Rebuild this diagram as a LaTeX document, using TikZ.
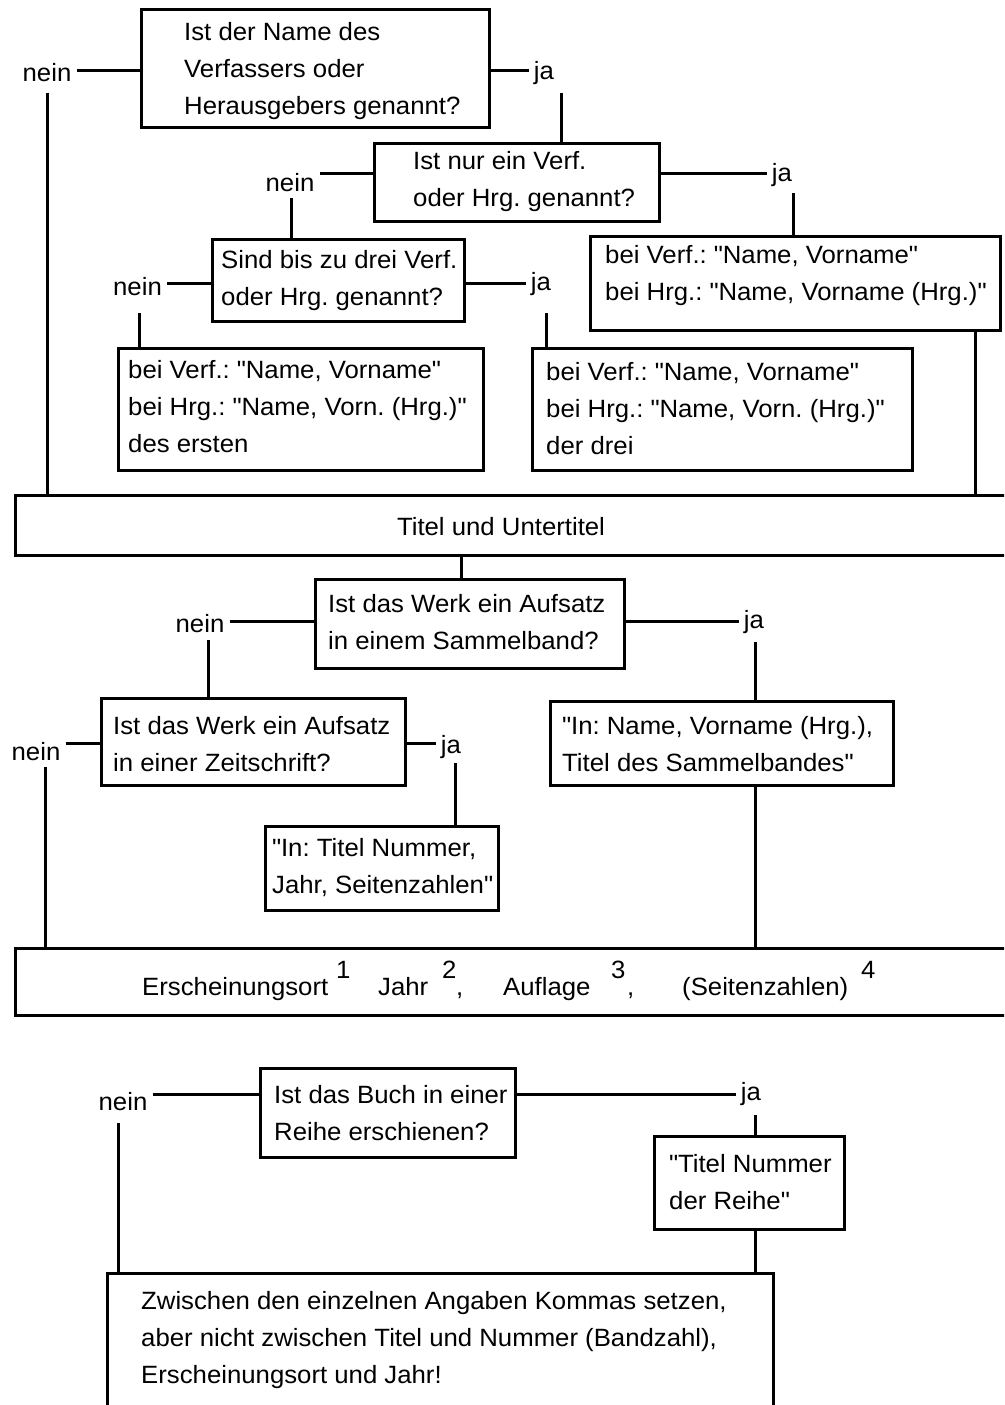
\documentclass[tikz,border=0pt]{standalone}
\usepackage{fontspec}
\setmainfont{Liberation Sans}[FakeStretch=1.03]
\newcommand\dq{\textquotedbl}
\begin{document}
\frenchspacing
\begin{tikzpicture}[x=1pt,y=-1pt,
  every node/.style={font=\fontsize{25pt}{37pt}\selectfont},
  box/.style={draw, line width=3pt, inner sep=0pt},
  txt/.style={anchor=west, align=left, inner sep=0pt},
  lab/.style={anchor=base, inner xsep=5pt, inner ysep=0pt},
  conn/.style={line width=3pt}]
\useasboundingbox (0,0) rectangle (1004,1405);
\clip (0,0) rectangle (1004,1405);
% boxes
\node[box, minimum width=348pt, minimum height=118pt] (b1) at (315,68.7) {};
\node[box, minimum width=285pt, minimum height=78pt] (b2) at (517,182.3) {};
\node[box, minimum width=252pt, minimum height=82pt] (b3) at (338.5,280.5) {};
\node[box, minimum width=410pt, minimum height=94pt] (b4) at (795.5,283.5) {};
\node[box, minimum width=365pt, minimum height=122pt] (b5) at (301,409.5) {};
\node[box, minimum width=380pt, minimum height=122pt] (b6) at (722.5,409.5) {};
\node[box, minimum width=998pt, minimum height=60pt] (titel) at (514.5,525.5) {};
\node[box, minimum width=309pt, minimum height=89pt] (b7) at (470,624) {};
\node[box, minimum width=304pt, minimum height=87pt] (b8) at (253.5,742) {};
\node[box, minimum width=343pt, minimum height=84pt] (b9) at (722,743.5) {};
\node[box, minimum width=233pt, minimum height=84pt] (b10) at (382,868.5) {};
\node[box, minimum width=998pt, minimum height=67pt] (ersch) at (514.5,982) {};
\node[box, minimum width=255pt, minimum height=89pt] (b11) at (388,1113) {};
\node[box, minimum width=190pt, minimum height=93pt] (b12) at (749.5,1183) {};
\node[box, minimum width=666pt, minimum height=157pt] (b13) at (440.5,1351.5) {};
% texts
\node[txt] (t1) at (184,71) {Ist der Name des\\Verfassers oder\\Herausgebers genannt?};
\node[txt] (t2) at (413,182) {Ist nur ein Verf.\\oder Hrg. genannt?};
\node[txt] (t3) at (221,281) {Sind bis zu drei Verf.\\oder Hrg. genannt?};
\node[txt] (t4) at (605,276) {bei Verf.: \dq Name, Vorname\dq\\bei Hrg.: \dq Name, Vorname (Hrg.)\dq};
\node[txt] (t5) at (128,407) {bei Verf.: \dq Name, Vorname\dq\\bei Hrg.: \dq Name, Vorn. (Hrg.)\dq\\des ersten};
\node[txt] (t6) at (546,409) {bei Verf.: \dq Name, Vorname\dq\\bei Hrg.: \dq Name, Vorn. (Hrg.)\dq\\der drei};
\node[inner sep=0pt] (tt) at (501,527) {Titel und Untertitel};
\node[txt] (t7) at (328,622) {Ist das Werk ein Aufsatz\\in einem Sammelband?};
\node[txt] (t8) at (113,744) {Ist das Werk ein Aufsatz\\in einer Zeitschrift?};
\node[txt] (t9) at (562,744) {\dq In: Name, Vorname (Hrg.),\\Titel des Sammelbandes\dq};
\node[txt] (t10) at (272,868) {\dq In: Titel Nummer,\\Jahr, Seitenzahlen\dq};
\node[anchor=base west, inner sep=0pt] (te) at (142,995) {\rlap{Erscheinungsort}\hspace*{194pt}\rlap{\raisebox{17pt}{1}}\hspace*{42pt}\rlap{Jahr}\hspace*{64pt}\rlap{\raisebox{17pt}{2}}\hspace*{14pt}\rlap{,}\hspace*{47pt}\rlap{Auflage}\hspace*{108pt}\rlap{\raisebox{17pt}{3}}\hspace*{16pt}\rlap{,}\hspace*{55pt}\rlap{(Seitenzahlen)}\hspace*{179pt}\raisebox{17pt}{4}};
\node[txt] (t11) at (274,1113) {Ist das Buch in einer\\Reihe erschienen?};
\node[txt] (t12) at (669,1182) {\dq Titel Nummer\\der Reihe\dq};
\node[txt] (t13) at (141,1340) {Zwischen den einzelnen Angaben Kommas setzen,\\aber nicht zwischen Titel und Nummer (Bandzahl),\\Erscheinungsort und Jahr!};
% labels
\node[lab] (n1) at (47,81.7) {nein};
\node[lab] (j1) at (544,80) {ja};
\node[lab] (n2) at (290,191.7) {nein};
\node[lab] (j2) at (782,181.7) {ja};
\node[lab] (n3) at (137.5,295) {nein};
\node[lab] (j3) at (541,290) {ja};
\node[lab] (n4) at (200,632) {nein};
\node[lab] (j4) at (754,628) {ja};
\node[lab] (n5) at (36,760) {nein};
\node[lab] (j5) at (451,753) {ja};
\node[lab] (n6) at (123,1110) {nein};
\node[lab] (j6) at (751,1100) {ja};
% connectors
\draw[conn] ([yshift=11pt]n1.base east) -- ([yshift=11pt]n1.base east -| b1.west);
\draw[conn] ([yshift=-11pt]n1.base) -- (n1.base |- titel.north);
\draw[conn] ([yshift=9.3pt]j1.base west) -- ([yshift=9.3pt]j1.base west -| b1.east);
\draw[conn] ([xshift=17pt,yshift=-13pt]j1.base) -- ([xshift=17pt]j1.base |- b2.north);
\draw[conn] ([yshift=18.7pt]n2.base east) -- ([yshift=18.7pt]n2.base east -| b2.west);
\draw[conn] ([xshift=1pt,yshift=-6.3pt]n2.base) -- ([xshift=1pt]n2.base |- b3.north);
\draw[conn] ([yshift=8.7pt]j2.base west) -- ([yshift=8.7pt]j2.base west -| b2.east);
\draw[conn] ([xshift=11pt,yshift=-11.3pt]j2.base) -- ([xshift=11pt]j2.base |- b4.north);
\draw[conn] ([yshift=12pt]n3.base east) -- ([yshift=12pt]n3.base east -| b3.west);
\draw[conn] ([xshift=2pt,yshift=-18pt]n3.base) -- ([xshift=2pt]n3.base |- b5.north);
\draw[conn] ([yshift=7pt]j3.base west) -- ([yshift=7pt]j3.base west -| b3.east);
\draw[conn] ([xshift=5pt,yshift=-23pt]j3.base) -- ([xshift=5pt]j3.base |- b6.north);
\draw[conn] ([xshift=179.5pt]b4.south) -- ([xshift=179.5pt]b4.south |- titel.north);
\draw[conn] ([xshift=-9pt]b7.north) -- ([xshift=-9pt]b7.north |- titel.south);
\draw[conn] ([yshift=11pt]n4.base east) -- ([yshift=11pt]n4.base east -| b7.west);
\draw[conn] ([xshift=8pt,yshift=-8pt]n4.base) -- ([xshift=8pt]n4.base |- b8.north);
\draw[conn] ([yshift=7pt]j4.base west) -- ([yshift=7pt]j4.base west -| b7.east);
\draw[conn] ([xshift=1.6pt,yshift=-14pt]j4.base) -- ([xshift=1.6pt]j4.base |- b9.north);
\draw[conn] ([yshift=17pt]n5.base east) -- ([yshift=17pt]n5.base east -| b8.west);
\draw[conn] ([xshift=9pt,yshift=-7pt]n5.base) -- ([xshift=9pt]n5.base |- ersch.north);
\draw[conn] ([yshift=10pt]j5.base west) -- ([yshift=10pt]j5.base west -| b8.east);
\draw[conn] ([xshift=4pt,yshift=-10pt]j5.base) -- ([xshift=4pt]j5.base |- b10.north);
\draw[conn] ([xshift=33.6pt]b9.south) -- ([xshift=33.6pt]b9.south |- ersch.north);
\draw[conn] ([yshift=16pt]n6.base east) -- ([yshift=16pt]n6.base east -| b11.west);
\draw[conn] ([xshift=-4.5pt,yshift=-13pt]n6.base) -- ([xshift=-4.5pt]n6.base |- b13.north);
\draw[conn] ([yshift=6pt]j6.base west) -- ([yshift=6pt]j6.base west -| b11.east);
\draw[conn] ([xshift=4.6pt,yshift=-15pt]j6.base) -- ([xshift=4.6pt]j6.base |- b12.north);
\draw[conn] ([xshift=6pt]b12.south) -- ([xshift=6pt]b12.south |- b13.north);
\end{tikzpicture}
\end{document}
